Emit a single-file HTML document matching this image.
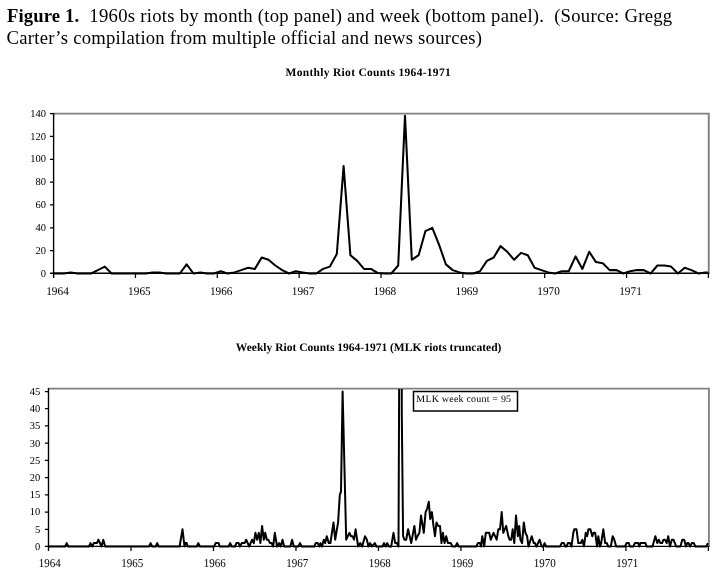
<!DOCTYPE html>
<html><head><meta charset="utf-8"><title>Figure 1</title>
<style>
html,body{margin:0;padding:0;background:#fff;}
body{width:719px;height:576px;overflow:hidden;position:relative;font-family:"Liberation Serif",serif;}
svg{position:absolute;left:0;top:0;will-change:transform;}
text{font-family:"Liberation Serif",serif;fill:#000;text-rendering:geometricPrecision;}
.cap{will-change:transform;position:absolute;left:7px;top:5.2px;width:712px;font-size:18.67px;line-height:21.7px;color:#000;white-space:pre;}
.l1{letter-spacing:0.273px;margin-left:0.3px;}
.l2{letter-spacing:0.24px;margin-left:-0.4px;}
</style></head><body>
<div class="cap"><b style="letter-spacing:0.11px">Figure 1.</b><span class="l1">  1960s riots by month (top panel) and week (bottom panel).  (Source: Gregg</span>
<span class="l2">Carter’s compilation from multiple official and news sources)</span></div>
<svg width="719" height="576" viewBox="0 0 719 576">

<text x="285.6" y="75.7" font-size="11.5" font-weight="bold" textLength="165.1" lengthAdjust="spacing">Monthly Riot Counts 1964-1971</text>
<text x="235.8" y="350.7" font-size="11.5" font-weight="bold" textLength="265.6" lengthAdjust="spacing">Weekly Riot Counts 1964-1971 (MLK riots truncated)</text>
<g fill="none">
<path d="M53.60 113.60 H708.75 V273.30" stroke="#808080" stroke-width="1.90"/>
<path d="M53.60 112.90 V278.00" stroke="#000" stroke-width="1.40"/>
<path d="M50.00 273.30 H709.35" stroke="#000" stroke-width="1.40"/>
<path d="M50.00 250.65 H53.60M50.00 227.80 H53.60M50.00 204.95 H53.60M50.00 182.10 H53.60M50.00 159.25 H53.60M50.00 136.40 H53.60M50.00 113.55 H53.60M135.45 273.30 V278.00M217.30 273.30 V278.00M299.15 273.30 V278.00M381.00 273.30 V278.00M462.85 273.30 V278.00M544.70 273.30 V278.00M626.55 273.30 V278.00M708.40 273.30 V278.00" stroke="#000" stroke-width="1.25"/>
</g>
<text x="46.0" y="276.7" font-size="10.5" text-anchor="end">0</text>
<text x="46.0" y="253.8" font-size="10.5" text-anchor="end">20</text>
<text x="46.0" y="231.0" font-size="10.5" text-anchor="end">40</text>
<text x="46.0" y="208.1" font-size="10.5" text-anchor="end">60</text>
<text x="46.0" y="185.3" font-size="10.5" text-anchor="end">80</text>
<text x="46.0" y="162.4" font-size="10.5" text-anchor="end">100</text>
<text x="46.0" y="139.6" font-size="10.5" text-anchor="end">120</text>
<text x="46.0" y="116.7" font-size="10.5" text-anchor="end">140</text>
<text transform="translate(57.5 294.9) scale(1 1.05)" font-size="11.3" text-anchor="middle">1964</text>
<text transform="translate(139.4 294.9) scale(1 1.05)" font-size="11.3" text-anchor="middle">1965</text>
<text transform="translate(221.2 294.9) scale(1 1.05)" font-size="11.3" text-anchor="middle">1966</text>
<text transform="translate(303.1 294.9) scale(1 1.05)" font-size="11.3" text-anchor="middle">1967</text>
<text transform="translate(384.9 294.9) scale(1 1.05)" font-size="11.3" text-anchor="middle">1968</text>
<text transform="translate(466.8 294.9) scale(1 1.05)" font-size="11.3" text-anchor="middle">1969</text>
<text transform="translate(548.6 294.9) scale(1 1.05)" font-size="11.3" text-anchor="middle">1970</text>
<text transform="translate(630.5 294.9) scale(1 1.05)" font-size="11.3" text-anchor="middle">1971</text>
<path d="M53.6 273.5 L57.0 273.5 L63.8 273.5 L70.7 272.4 L77.5 273.5 L84.3 273.5 L91.1 273.5 L97.9 270.1 L104.8 266.6 L111.6 273.5 L118.4 273.5 L125.2 273.5 L132.1 273.5 L138.9 273.5 L145.7 273.5 L152.5 272.4 L159.4 272.4 L166.2 273.5 L173.0 273.5 L179.8 273.5 L186.6 264.4 L193.5 273.5 L200.3 272.4 L207.1 273.5 L213.9 273.5 L220.8 271.2 L227.6 273.5 L234.4 272.4 L241.2 270.1 L248.1 267.8 L254.9 268.9 L261.7 257.5 L268.5 259.8 L275.3 265.5 L282.2 270.1 L289.0 273.5 L295.8 271.2 L302.6 272.4 L309.5 273.5 L316.3 273.5 L323.1 268.9 L329.9 266.6 L336.8 254.1 L343.6 166.1 L350.4 255.2 L357.2 260.9 L364.0 268.9 L370.9 268.9 L377.7 273.0 L384.5 273.5 L391.3 273.5 L398.2 265.5 L405.0 115.8 L411.8 259.8 L418.6 255.2 L425.4 231.2 L432.3 227.8 L439.1 244.9 L445.9 264.4 L452.7 270.1 L459.6 272.4 L466.4 273.5 L473.2 273.5 L480.0 271.2 L486.9 260.9 L493.7 257.5 L500.5 246.1 L507.3 251.8 L514.1 259.8 L521.0 252.9 L527.8 255.2 L534.6 267.8 L541.4 270.1 L548.3 272.4 L555.1 273.5 L561.9 271.2 L568.7 271.2 L575.6 256.4 L582.4 268.9 L589.2 251.8 L596.0 262.1 L602.8 263.2 L609.7 270.1 L616.5 270.1 L623.3 273.5 L630.1 271.2 L637.0 270.1 L643.8 270.1 L650.6 273.5 L657.4 265.5 L664.3 265.5 L671.1 266.6 L677.9 273.5 L684.7 267.8 L691.5 270.1 L698.4 273.5 L705.2 272.4 L707.8 272.4" fill="none" stroke="#000" stroke-width="2.05" stroke-linejoin="round" stroke-linecap="butt"/>
<g fill="none">
<path d="M48.50 388.60 H708.90 V546.35" stroke="#808080" stroke-width="1.90"/>
<path d="M48.50 388.00 V551.05" stroke="#000" stroke-width="1.40"/>
<path d="M44.90 546.35 H709.50" stroke="#000" stroke-width="1.40"/>
<path d="M44.90 529.32 H48.50M44.90 512.09 H48.50M44.90 494.87 H48.50M44.90 477.64 H48.50M44.90 460.41 H48.50M44.90 443.18 H48.50M44.90 425.95 H48.50M44.90 408.73 H48.50M44.90 391.50 H48.50M130.99 546.35 V551.05M213.47 546.35 V551.05M295.96 546.35 V551.05M378.45 546.35 V551.05M460.94 546.35 V551.05M543.42 546.35 V551.05M625.91 546.35 V551.05M708.40 546.35 V551.05" stroke="#000" stroke-width="1.25"/>
</g>
<text x="40.2" y="549.8" font-size="10.5" text-anchor="end">0</text>
<text x="40.2" y="532.6" font-size="10.5" text-anchor="end">5</text>
<text x="40.2" y="515.4" font-size="10.5" text-anchor="end">10</text>
<text x="40.2" y="498.2" font-size="10.5" text-anchor="end">15</text>
<text x="40.2" y="480.9" font-size="10.5" text-anchor="end">20</text>
<text x="40.2" y="463.7" font-size="10.5" text-anchor="end">25</text>
<text x="40.2" y="446.5" font-size="10.5" text-anchor="end">30</text>
<text x="40.2" y="429.3" font-size="10.5" text-anchor="end">35</text>
<text x="40.2" y="412.0" font-size="10.5" text-anchor="end">40</text>
<text x="40.2" y="394.8" font-size="10.5" text-anchor="end">45</text>
<text transform="translate(49.8 566.7) scale(1 1.1)" font-size="11" text-anchor="middle">1964</text>
<text transform="translate(132.3 566.7) scale(1 1.1)" font-size="11" text-anchor="middle">1965</text>
<text transform="translate(214.8 566.7) scale(1 1.1)" font-size="11" text-anchor="middle">1966</text>
<text transform="translate(297.3 566.7) scale(1 1.1)" font-size="11" text-anchor="middle">1967</text>
<text transform="translate(379.8 566.7) scale(1 1.1)" font-size="11" text-anchor="middle">1968</text>
<text transform="translate(462.2 566.7) scale(1 1.1)" font-size="11" text-anchor="middle">1969</text>
<text transform="translate(544.7 566.7) scale(1 1.1)" font-size="11" text-anchor="middle">1970</text>
<text transform="translate(627.2 566.7) scale(1 1.1)" font-size="11" text-anchor="middle">1971</text>
<clipPath id="cb"><rect x="48" y="389" width="662" height="170"/></clipPath>
<path clip-path="url(#cb)" d="M48.5 546.5 L65.1 546.5 L66.7 543.1 L68.3 546.5 L88.9 546.5 L90.5 543.1 L92.3 546.5 L93.8 543.1 L96.9 543.1 L98.4 539.7 L101.5 546.5 L103.3 539.7 L105.2 546.5 L149.0 546.5 L150.6 543.1 L152.2 546.5 L155.7 546.5 L157.2 543.1 L158.8 546.5 L179.6 546.5 L182.5 529.3 L184.5 546.5 L185.3 543.1 L186.7 543.1 L187.6 546.5 L196.7 546.5 L198.3 543.1 L199.9 546.5 L214.2 546.5 L215.6 543.1 L218.6 543.1 L219.8 546.5 L228.6 546.5 L230.2 543.1 L231.8 546.5 L235.0 546.5 L236.4 543.1 L238.6 543.1 L240.0 546.5 L241.7 543.1 L244.6 543.1 L246.2 539.7 L249.2 546.5 L252.1 539.7 L253.8 543.1 L255.4 532.8 L257.1 539.7 L258.8 532.8 L260.4 543.1 L262.1 525.9 L263.8 539.7 L265.2 532.8 L266.8 539.7 L268.3 539.7 L270.0 543.1 L271.7 543.1 L273.2 546.5 L274.8 532.8 L277.1 546.5 L279.2 543.1 L280.8 546.5 L282.5 539.7 L284.2 546.5 L290.4 546.5 L292.1 539.7 L293.8 546.5 L298.3 546.5 L300.0 543.1 L301.7 546.5 L314.2 546.5 L315.7 543.1 L317.7 543.1 L319.2 546.5 L320.5 543.1 L322.0 546.5 L323.8 539.7 L325.2 543.1 L326.8 536.2 L328.8 543.1 L330.4 543.1 L333.5 522.4 L335.2 539.7 L338.1 522.4 L339.8 494.9 L341.0 491.4 L342.6 391.5 L346.2 539.7 L349.4 532.8 L350.9 536.2 L352.5 536.2 L354.0 539.7 L355.6 529.3 L358.1 546.5 L360.2 543.1 L362.2 546.5 L365.0 536.2 L366.9 539.7 L368.4 546.5 L370.0 543.1 L371.9 546.5 L374.8 543.1 L376.5 546.5 L382.4 546.5 L384.0 543.1 L385.6 546.5 L387.2 543.1 L389.0 546.5 L391.2 546.5 L393.5 532.8 L395.2 543.1 L396.9 543.1 L398.5 546.5 L399.8 219.2 L401.6 219.2 L401.8 415.6 L403.1 536.2 L404.4 539.7 L406.2 539.7 L408.1 529.3 L411.2 543.1 L414.4 525.9 L416.0 539.7 L417.5 536.2 L419.4 532.8 L421.0 515.5 L423.8 532.8 L425.6 512.1 L427.2 508.6 L428.8 501.8 L430.2 519.0 L431.9 512.1 L433.5 525.9 L435.0 536.2 L436.5 522.4 L438.2 525.9 L440.0 525.9 L441.5 543.1 L442.9 532.8 L444.6 543.1 L446.2 536.2 L447.9 543.1 L450.8 543.1 L452.5 546.5 L455.4 546.5 L457.1 543.1 L458.8 546.5 L476.2 546.5 L477.9 543.1 L480.0 543.1 L481.0 546.5 L482.3 536.2 L484.2 546.5 L485.8 532.8 L489.2 532.8 L490.8 539.7 L493.5 532.8 L496.7 539.7 L498.3 529.3 L500.0 529.3 L501.7 512.1 L503.3 532.8 L506.2 525.9 L508.3 536.2 L509.6 539.7 L511.2 539.7 L512.7 529.3 L514.3 543.1 L516.0 515.5 L517.9 536.2 L519.2 525.9 L520.4 539.7 L522.1 543.1 L523.8 522.4 L525.4 532.8 L527.1 536.2 L528.5 546.5 L531.7 536.2 L533.8 543.1 L535.0 543.1 L536.5 546.5 L539.6 539.7 L541.7 546.5 L543.2 546.5 L544.6 543.1 L546.2 546.5 L560.0 546.5 L561.7 543.1 L563.8 543.1 L565.4 546.5 L566.5 546.5 L567.9 543.1 L570.0 543.1 L571.5 546.5 L573.3 532.8 L574.3 529.3 L576.5 529.3 L578.3 543.1 L580.8 543.1 L582.3 539.7 L584.0 546.5 L585.7 532.8 L587.1 536.2 L588.5 529.3 L590.4 529.3 L592.3 536.2 L593.5 532.8 L595.2 532.8 L597.1 546.5 L598.3 536.2 L600.0 546.5 L601.2 543.1 L603.3 529.3 L605.2 543.1 L606.8 543.1 L608.3 546.5 L610.8 546.5 L612.7 536.2 L614.3 539.7 L616.2 546.5 L625.0 546.5 L626.5 543.1 L628.8 543.1 L630.0 546.5 L633.3 546.5 L634.8 543.1 L638.2 543.1 L639.3 546.5 L640.4 543.1 L645.4 543.1 L646.7 546.5 L652.5 546.5 L655.4 536.2 L657.3 543.1 L658.8 539.7 L660.4 543.1 L662.1 543.1 L663.5 539.7 L665.0 539.7 L666.7 543.1 L668.2 536.2 L670.0 546.5 L671.8 539.7 L673.5 539.7 L676.2 546.5 L680.4 546.5 L682.3 539.7 L684.2 539.7 L686.0 546.5 L687.3 543.1 L688.5 543.1 L690.2 546.5 L691.7 543.1 L693.8 543.1 L695.4 546.5 L706.2 546.5 L707.9 543.1" fill="none" stroke="#000" stroke-width="2.0" stroke-linejoin="round" stroke-linecap="butt"/>
<rect x="413.5" y="391.5" width="104" height="19.5" fill="#fff" stroke="#000" stroke-width="1.5"/>
<text x="416.3" y="401.9" font-size="10" textLength="94.8" lengthAdjust="spacing">MLK week count = 95</text>
</svg></body></html>
